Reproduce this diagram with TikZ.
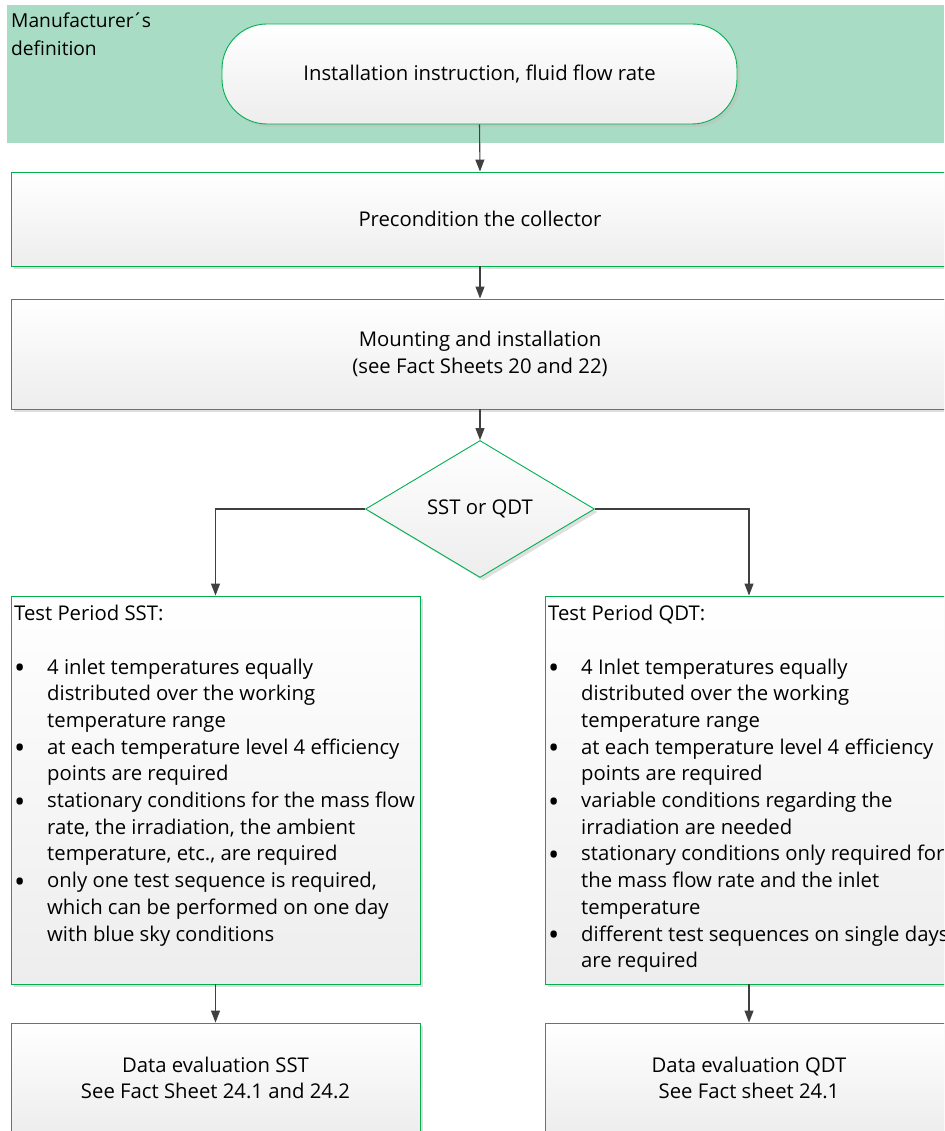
\documentclass[tikz,border=0pt]{standalone}
\usepackage{fontspec}
\setmainfont{Open Sans}
\usetikzlibrary{shapes.geometric,shadows,arrows.meta}
\definecolor{band}{RGB}{168,220,197}
\definecolor{bord}{RGB}{0,176,80}
\definecolor{arrc}{RGB}{64,64,64}
\newcommand{\bul}{\makebox[33pt][l]{\fontsize{30}{30}\selectfont\raisebox{-4.5pt}{•}}}
\newcommand{\ind}{\hspace*{33pt}}
\tikzset{
  fnt/.style={font=\fontsize{20.3}{26.7}\selectfont},
  shapebase/.style={draw=bord, line width=0.9pt, top color=white, bottom color=black!7,
    drop shadow={shadow xshift=3pt, shadow yshift=-3pt, fill=black!25, opacity=0.5},
    fnt, align=center, inner sep=0pt},
  boxn/.style={shapebase, rectangle},
  listtext/.style={fnt, align=left, inner sep=0pt, anchor=north west},
  arr/.style={draw=arrc, line width=1.1pt, -{Triangle[length=12pt,width=9pt]}}
}
\begin{document}
\begin{tikzpicture}[x=1pt,y=-1pt]
\useasboundingbox (0,0) rectangle (944,1131);
\clip (0,0) rectangle (944,1131);
% band
\node[fill=band, minimum width=937pt, minimum height=138pt, inner sep=0pt] (band) at (475.5,74) {};
\node[align=left, inner sep=0pt, anchor=north west, font=\fontsize{19.2}{27.5}\selectfont] (bandlabel) at (11,13) {Manufacturer\kern-1.5pt´\kern-1.5pt s\\definition};
% terminal
\node[shapebase, rounded corners=45pt, minimum width=515pt, minimum height=100pt] (term) at (479.5,74) {Installation instruction, fluid flow rate};
% boxes
\node[boxn, minimum width=938pt, minimum height=94pt] (pre) at (480,219) {Precondition the collector};
\node[boxn, minimum width=938pt, minimum height=110pt] (mount) at (480,354) {Mounting and installation\\(see Fact Sheets 20 and 22)};
% diamond
\node[shapebase, diamond, minimum width=229pt, minimum height=137pt] (dec) at (480,509) {SST or QDT};
% test period boxes
\node[boxn, minimum width=409pt, minimum height=388pt] (sst) at (215.5,790) {};
\node[boxn, minimum width=408pt, minimum height=388pt] (qdt) at (749,790) {};
\node[listtext] (ssttext) at (14,605) {Test Period SST:\\[26.7pt]
\bul 4 inlet temperatures equally\\
\ind distributed over the working\\
\ind temperature range\\
\bul at each temperature level 4 efficiency\\
\ind points are required\\
\bul stationary conditions for the mass flow\\
\ind rate, the irradiation, the ambient\\
\ind temperature, etc., are required\\
\bul only one test sequence is required,\\
\ind which can be performed on one day\\
\ind with blue sky conditions};
\node[listtext] (qdttext) at (548,605) {Test Period QDT:\\[26.7pt]
\bul 4 Inlet temperatures equally\\
\ind distributed over the working\\
\ind temperature range\\
\bul at each temperature level 4 efficiency\\
\ind points are required\\
\bul variable conditions regarding the\\
\ind irradiation are needed\\
\bul stationary conditions only required for\\
\ind the mass flow rate and the inlet\\
\ind temperature\\
\bul different test sequences on single days\\
\ind are required};
% evaluation boxes
\node[boxn, minimum width=409pt, minimum height=110pt] (evs) at (215.5,1078) {Data evaluation SST\\See Fact Sheet 24.1 and 24.2};
\node[boxn, minimum width=408pt, minimum height=110pt] (evq) at (749,1078) {Data evaluation QDT\\See Fact sheet 24.1};
% connectors
\draw[arr] (term.south) -- (pre.north);
\draw[arr] (pre.south) -- (mount.north);
\draw[arr] (mount.south) -- (dec.north);
\draw[arr] (dec.west) -| (sst.north);
\draw[arr] (dec.east) -| (qdt.north);
\draw[arr] (sst.south) -- (evs.north);
\draw[arr] (qdt.south) -- (evq.north);
\end{tikzpicture}
\end{document}
